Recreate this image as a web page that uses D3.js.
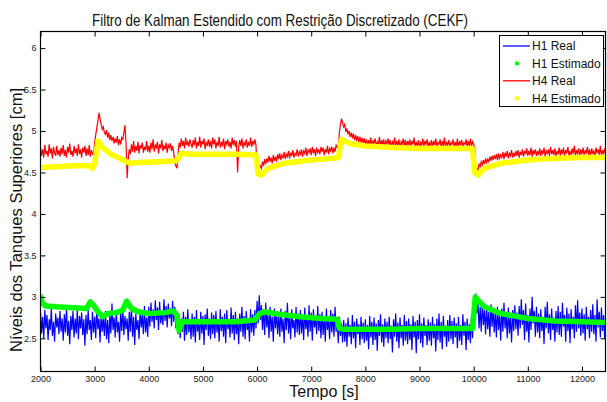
<!DOCTYPE html>
<html>
<head>
<meta charset="utf-8">
<script src="https://cdn.jsdelivr.net/npm/d3@7"></script>
<style>
  html, body { margin: 0; padding: 0; background: #fff; }
  svg { display: block; font-family: Arial, "Liberation Sans", Helvetica, sans-serif; }
</style>
</head>
<body>
<svg id="chart" width="607" height="402"></svg>
<script>
// Sampling of the measured signals: one sample every 20 s from t = 2000 s
const sampleStart = 2000;
const samplePeriod = 20;

// H1 measured level [cm], one row per 400 s
const h1Real = [
  2.82,2.56,2.76,2.50,2.84,2.62,2.78,2.48,2.73,2.60,2.86,2.53,2.70,2.46,2.80,2.63,2.75,2.55,2.83,2.58,
  2.74,2.47,2.79,2.57,2.88,2.53,2.71,2.43,2.77,2.60,2.83,2.51,2.74,2.56,2.85,2.49,2.77,2.62,2.81,2.54,
  2.73,2.41,2.78,2.55,2.84,2.60,2.72,2.48,2.82,2.57,2.76,2.50,2.87,2.61,2.74,2.45,2.80,2.58,2.75,2.53,
  2.83,2.49,2.72,2.44,2.79,2.56,2.92,2.60,2.75,2.51,2.84,2.57,2.70,2.46,2.81,2.59,2.86,2.54,2.77,2.61,
  2.74,2.47,2.82,2.58,2.88,2.52,2.76,2.42,2.80,2.60,2.72,2.49,2.85,2.63,2.78,2.55,2.89,2.57,2.75,2.52,
  2.88,2.64,2.93,2.70,2.85,2.62,2.96,2.72,2.87,2.60,2.94,2.68,2.83,2.66,2.97,2.71,2.89,2.63,2.92,2.74,
  2.86,2.65,2.95,2.70,2.88,2.62,2.80,2.55,2.78,2.50,2.74,2.58,2.82,2.47,2.76,2.54,2.85,2.57,2.72,2.49,
  2.80,2.52,2.76,2.45,2.84,2.58,2.71,2.48,2.82,2.56,2.77,2.42,2.79,2.60,2.86,2.53,2.74,2.49,2.81,2.55,
  2.78,2.50,2.83,2.57,2.72,2.46,2.85,2.59,2.76,2.52,2.80,2.44,2.84,2.61,2.73,2.51,2.87,2.56,2.78,2.48,
  2.82,2.55,2.74,2.43,2.80,2.58,2.88,2.52,2.77,2.49,2.83,2.60,2.71,2.46,2.85,2.57,2.79,2.53,2.84,2.62,
  2.95,2.68,3.02,2.72,2.90,2.60,2.85,2.54,2.93,2.63,2.80,2.50,2.88,2.58,2.76,2.46,2.86,2.62,2.82,2.55,
  2.79,2.52,2.86,2.58,2.74,2.44,2.83,2.60,2.93,2.56,2.78,2.49,2.85,2.62,2.72,2.51,2.88,2.57,2.80,2.54,
  2.84,2.56,2.78,2.48,2.87,2.61,2.76,2.52,2.90,2.58,2.81,2.47,2.85,2.63,2.74,2.55,2.89,2.59,2.79,2.50,
  2.82,2.54,2.77,2.46,2.86,2.60,2.73,2.49,2.84,2.57,2.80,2.52,2.88,2.58,2.70,2.44,2.76,2.53,2.68,2.45,
  2.72,2.46,2.68,2.40,2.75,2.52,2.66,2.43,2.78,2.50,2.70,2.38,2.74,2.55,2.67,2.42,2.76,2.49,2.69,2.44,
  2.73,2.47,2.66,2.37,2.77,2.51,2.70,2.42,2.75,2.48,2.68,2.35,2.72,2.53,2.79,2.45,2.67,2.40,2.74,2.50,
  2.70,2.44,2.76,2.49,2.65,2.33,2.73,2.52,2.80,2.46,2.69,2.38,2.75,2.50,2.66,2.41,2.78,2.47,2.71,2.43,
  2.74,2.48,2.67,2.36,2.77,2.51,2.70,2.32,2.72,2.49,2.79,2.44,2.68,2.39,2.75,2.53,2.66,2.42,2.73,2.47,
  2.69,2.41,2.76,2.50,2.67,2.34,2.74,2.48,2.80,2.45,2.70,2.37,2.77,2.52,2.65,2.40,2.72,2.46,2.78,2.49,
  2.71,2.43,2.75,2.51,2.68,2.38,2.76,2.47,2.66,2.42,2.79,2.53,2.70,2.36,2.74,2.48,2.67,2.44,2.77,2.50,
  2.98,2.74,3.04,2.80,2.92,2.62,2.88,2.58,2.94,2.66,2.84,2.55,2.90,2.61,2.82,2.52,2.91,2.64,2.86,2.57,
  2.83,2.51,2.88,2.60,2.79,2.47,2.86,2.58,2.93,2.62,2.80,2.50,2.87,2.56,2.76,2.45,2.84,2.59,2.90,2.61,
  2.81,2.53,2.89,2.62,2.97,2.66,2.84,2.48,2.92,2.58,2.78,2.45,2.86,2.60,3.00,2.68,2.83,2.52,2.88,2.57,
  2.80,2.50,2.85,2.59,2.76,2.43,2.88,2.62,2.94,2.56,2.79,2.48,2.86,2.60,2.75,2.46,2.83,2.57,2.89,2.54,
  2.82,2.52,2.93,2.64,2.78,2.46,2.87,2.59,2.80,2.44,2.85,2.61,2.76,2.50,2.90,2.58,2.96,2.62,2.81,2.53,
  2.86,2.56,2.79,2.47,2.88,2.61,2.76,2.50,2.84,2.58,2.91,2.55,2.78,2.46,2.97,2.63,2.82,2.51,2.87,2.59,
  2.78,2.49,2.83
];

// H4 measured level [cm], one row per 400 s
const h4Real = [
  4.80,4.70,4.78,4.68,4.83,4.72,4.76,4.69,4.84,4.73,4.79,4.67,4.81,4.74,4.70,4.82,4.71,4.77,4.69,4.80,
  4.72,4.83,4.70,4.77,4.68,4.81,4.74,4.85,4.71,4.76,4.69,4.82,4.73,4.79,4.70,4.84,4.72,4.78,4.68,4.80,
  4.74,4.82,4.70,4.79,4.71,4.83,4.69,4.77,4.73,4.70,4.86,4.95,5.04,5.12,5.22,5.15,5.08,5.02,5.05,4.98,
  4.96,5.01,4.92,4.98,4.89,4.95,4.88,4.93,4.85,4.91,4.86,4.94,4.83,4.90,4.84,4.92,4.90,4.98,5.07,4.85,
  4.43,4.66,4.78,4.72,4.84,4.75,4.88,4.74,4.82,4.76,4.87,4.73,4.83,4.79,4.86,4.74,4.81,4.77,4.88,4.75,
  4.82,4.74,4.86,4.78,4.90,4.75,4.83,4.80,4.87,4.73,4.84,4.79,4.89,4.76,4.82,4.78,4.86,4.74,4.83,4.80,
  4.85,4.76,4.82,4.74,4.62,4.58,4.55,4.72,4.86,4.80,4.91,4.82,4.88,4.79,4.92,4.83,4.87,4.81,4.90,4.84,
  4.80,4.89,4.83,4.92,4.79,4.87,4.82,4.93,4.80,4.88,4.84,4.91,4.78,4.86,4.83,4.90,4.81,4.88,4.79,4.92,
  4.84,4.90,4.79,4.87,4.82,4.93,4.80,4.86,4.83,4.91,4.78,4.88,4.84,4.90,4.81,4.87,4.79,4.92,4.83,4.89,
  4.81,4.88,4.50,4.80,4.89,4.82,4.91,4.79,4.86,4.83,4.90,4.80,4.87,4.82,4.92,4.81,4.88,4.84,4.90,4.83,
  4.46,4.50,4.54,4.58,4.55,4.63,4.58,4.66,4.60,4.67,4.62,4.70,4.63,4.68,4.61,4.71,4.64,4.69,4.63,4.72,
  4.66,4.73,4.65,4.71,4.67,4.75,4.66,4.72,4.69,4.76,4.67,4.74,4.70,4.77,4.68,4.73,4.71,4.78,4.69,4.75,
  4.72,4.78,4.69,4.76,4.73,4.80,4.70,4.77,4.74,4.79,4.71,4.81,4.73,4.78,4.70,4.80,4.74,4.77,4.72,4.81,
  4.75,4.80,4.71,4.78,4.74,4.82,4.72,4.79,4.76,4.81,4.73,4.80,4.75,4.83,4.80,4.77,4.98,5.08,5.15,5.10,
  5.05,5.08,4.99,5.03,4.96,5.00,4.93,4.98,4.91,4.97,4.89,4.95,4.88,4.94,4.87,4.93,4.86,4.92,4.85,4.91,
  4.84,4.90,4.81,4.89,4.83,4.92,4.80,4.88,4.85,4.91,4.82,4.87,4.84,4.93,4.81,4.89,4.83,4.90,4.80,4.88,
  4.85,4.91,4.82,4.89,4.80,4.87,4.84,4.92,4.81,4.88,4.83,4.90,4.79,4.87,4.84,4.91,4.82,4.89,4.80,4.88,
  4.83,4.90,4.81,4.88,4.84,4.92,4.80,4.87,4.82,4.89,4.79,4.86,4.83,4.91,4.81,4.88,4.84,4.90,4.80,4.87,
  4.82,4.89,4.80,4.88,4.83,4.91,4.81,4.86,4.84,4.90,4.79,4.88,4.82,4.92,4.80,4.87,4.83,4.89,4.81,4.86,
  4.84,4.90,4.80,4.87,4.82,4.91,4.79,4.88,4.83,4.89,4.81,4.86,4.84,4.90,4.80,4.88,4.82,4.91,4.81,4.87,
  4.84,4.80,4.50,4.55,4.53,4.60,4.57,4.63,4.59,4.65,4.60,4.67,4.62,4.66,4.63,4.69,4.64,4.70,4.65,4.71,
  4.66,4.72,4.65,4.73,4.67,4.71,4.68,4.75,4.66,4.74,4.69,4.76,4.67,4.73,4.70,4.77,4.68,4.74,4.69,4.76,
  4.70,4.77,4.68,4.75,4.71,4.78,4.69,4.76,4.72,4.79,4.70,4.76,4.71,4.80,4.69,4.77,4.72,4.78,4.70,4.76,
  4.71,4.79,4.70,4.77,4.72,4.80,4.69,4.76,4.73,4.78,4.70,4.81,4.72,4.77,4.71,4.79,4.69,4.76,4.72,4.80,
  4.70,4.78,4.72,4.80,4.69,4.77,4.73,4.81,4.70,4.76,4.71,4.79,4.72,4.82,4.70,4.77,4.73,4.79,4.69,4.78,
  4.72,4.80,4.70,4.77,4.73,4.81,4.71,4.78,4.69,4.79,4.72,4.76,4.70,4.80,4.73,4.78,4.71,4.82,4.70,4.77,
  4.72,4.79,4.71
];

// CEKF estimates (time [s], level [cm])
const h1EstTime = [2000,2040,2100,2300,2600,2850,2920,2980,3060,3150,3250,3400,3520,3590,3680,3800,4000,4300,4450,4520,4560,4620,4800,5200,5600,5950,6050,6150,6400,6800,7200,7480,7520,7600,8000,8500,9000,9500,9980,10030,10080,10200,10500,11000,11500,12000,12450];
const h1Est     = [3.00,2.92,2.89,2.88,2.87,2.86,2.94,2.90,2.82,2.76,2.80,2.81,2.84,2.95,2.86,2.82,2.80,2.81,2.83,2.78,2.59,2.70,2.70,2.70,2.70,2.72,2.80,2.82,2.79,2.76,2.74,2.73,2.62,2.61,2.61,2.61,2.62,2.62,2.62,3.00,2.96,2.88,2.80,2.74,2.71,2.70,2.69];

const h4EstTime = [2000,2300,2600,2900,2960,3000,3060,3150,3300,3500,3650,3800,4200,4500,4540,4600,4800,5200,5600,5980,6020,6080,6200,6500,7000,7400,7500,7560,7700,8000,8500,9000,9500,9980,10020,10080,10200,10500,11000,11500,12000,12450];
const h4Est     = [4.56,4.57,4.58,4.58,4.55,4.60,4.88,4.80,4.72,4.66,4.61,4.62,4.63,4.64,4.66,4.73,4.72,4.72,4.72,4.71,4.48,4.47,4.55,4.61,4.65,4.67,4.68,4.90,4.85,4.82,4.80,4.79,4.79,4.79,4.50,4.47,4.55,4.61,4.65,4.67,4.68,4.68];

const xTicks = [2000,3000,4000,5000,6000,7000,8000,9000,10000,11000,12000];
const yTicks = [2.5,3,3.5,4,4.5,5,5.5,6];

const titleText = "Filtro de Kalman Estendido com Restrição Discretizado (CEKF)";
const xLabelText = "Tempo [s]";
const yLabelText = "Níveis dos Tanques Superiores [cm]";
const legendNames = ["H1 Real", "H1 Estimado", "H4 Real", "H4 Estimado"];

// ---- layout ----
const svg = d3.select("#chart");
const plotLeft = 40.5, plotRight = 605.5, plotTop = 31.5, plotBottom = 371.5;

const x = d3.scaleLinear().domain([2000, 12435]).range([plotLeft, plotRight]);
const y = d3.scaleLinear().domain([2.1, 6.2]).range([plotBottom, plotTop]);

svg.append("defs").append("clipPath").attr("id", "plotClip")
  .append("rect").attr("x", plotLeft).attr("y", plotTop)
  .attr("width", plotRight - plotLeft).attr("height", plotBottom - plotTop);

const plot = svg.append("g").attr("clip-path", "url(#plotClip)");

const sampled = vals => vals.map((v, i) => [sampleStart + i * samplePeriod, v]);
const paired = (ts, vs) => ts.map((t, i) => [t, vs[i]]);
const line = d3.line().x(d => x(d[0])).y(d => y(d[1]));

plot.append("path").datum(sampled(h1Real))
  .attr("d", line).attr("fill", "none")
  .attr("stroke", "#0000ff").attr("stroke-width", 1.2);

plot.append("path").datum(sampled(h4Real))
  .attr("d", line).attr("fill", "none")
  .attr("stroke", "#ff0000").attr("stroke-width", 1.2);

plot.append("path").datum(paired(h1EstTime, h1Est))
  .attr("d", line).attr("fill", "none")
  .attr("stroke", "#00ff00").attr("stroke-width", 5.5)
  .attr("stroke-linejoin", "round").attr("stroke-linecap", "round");

plot.append("path").datum(paired(h4EstTime, h4Est))
  .attr("d", line).attr("fill", "none")
  .attr("stroke", "#ffff00").attr("stroke-width", 5.5)
  .attr("stroke-linejoin", "round").attr("stroke-linecap", "round");

// ---- axes (box with inward ticks on all sides) ----
const tickLen = 5;
const axisColor = "#000";

const xb = svg.append("g").attr("transform", `translate(0,${plotBottom})`)
  .call(d3.axisBottom(x).tickValues(xTicks).tickSizeInner(-tickLen).tickSizeOuter(0).tickPadding(4).tickFormat(d3.format("d")));
const xt = svg.append("g").attr("transform", `translate(0,${plotTop})`)
  .call(d3.axisTop(x).tickValues(xTicks).tickSizeInner(-tickLen).tickSizeOuter(0).tickFormat(""));
const yl = svg.append("g").attr("transform", `translate(${plotLeft},0)`)
  .call(d3.axisLeft(y).tickValues(yTicks).tickSizeInner(-tickLen).tickSizeOuter(0).tickPadding(4).tickFormat(d => String(d)));
const yr = svg.append("g").attr("transform", `translate(${plotRight},0)`)
  .call(d3.axisRight(y).tickValues(yTicks).tickSizeInner(-tickLen).tickSizeOuter(0).tickFormat(""));

[xb, xt, yl, yr].forEach(g => {
  g.select(".domain").remove();
  g.selectAll(".tick line").attr("stroke", axisColor).attr("stroke-width", 1);
  g.selectAll(".tick text").attr("fill", "#222").attr("font-size", 9)
    .attr("font-family", "Arial, 'Liberation Sans', sans-serif");
});

svg.append("rect").attr("x", plotLeft).attr("y", plotTop)
  .attr("width", plotRight - plotLeft).attr("height", plotBottom - plotTop)
  .attr("fill", "none").attr("stroke", axisColor).attr("stroke-width", 1.2);

// ---- titles ----
svg.append("text").attr("x", 280).attr("y", 26)
  .attr("text-anchor", "middle").attr("font-size", 16.5).attr("fill", "#111")
  .attr("textLength", 376).attr("lengthAdjust", "spacingAndGlyphs")
  .text(titleText);

svg.append("text").attr("x", 324).attr("y", 397)
  .attr("text-anchor", "middle").attr("font-size", 16).attr("fill", "#111")
  .text(xLabelText);

svg.append("text")
  .attr("transform", "translate(22,220) rotate(-90)")
  .attr("text-anchor", "middle").attr("font-size", 16).attr("fill", "#111")
  .attr("textLength", 264).attr("lengthAdjust", "spacingAndGlyphs")
  .text(yLabelText);

// ---- legend ----
const legend = svg.append("g");
legend.append("rect").attr("x", 499.5).attr("y", 35.5).attr("width", 104).attr("height", 71)
  .attr("fill", "#fff").attr("stroke", "#000").attr("stroke-width", 1);

const legendColors = ["#0000ff", "#00ff00", "#ff0000", "#ffff00"];
const legendKinds = ["line", "dot", "line", "dot"];
legendNames.forEach((name, i) => {
  const cy = 46 + i * 17.4;
  if (legendKinds[i] === "line") {
    legend.append("line").attr("x1", 503).attr("x2", 530).attr("y1", cy).attr("y2", cy)
      .attr("stroke", legendColors[i]).attr("stroke-width", 1.3);
  } else {
    legend.append("circle").attr("cx", 517).attr("cy", cy).attr("r", 2.2)
      .attr("fill", legendColors[i]);
  }
  legend.append("text").attr("x", 532).attr("y", cy + 4.3)
    .attr("font-size", 12).attr("fill", "#111").text(name);
});
</script>
</body>
</html>
